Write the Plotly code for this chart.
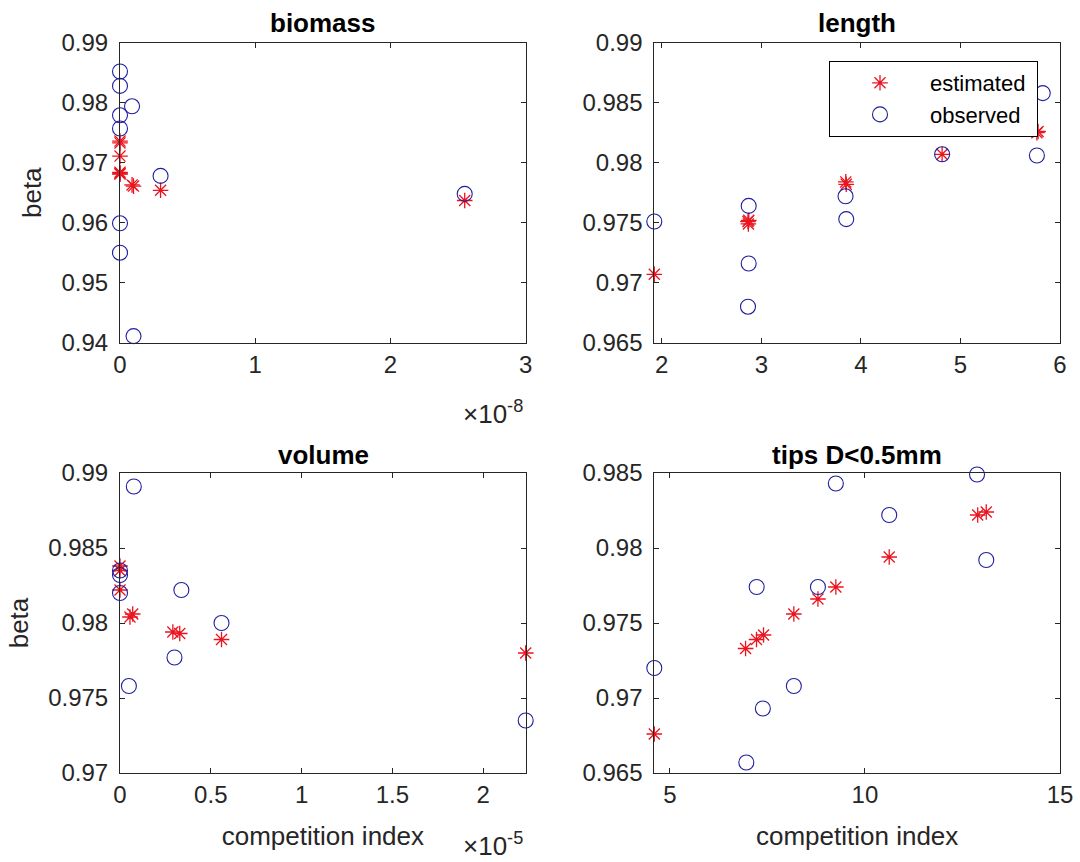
import plotly.graph_objects as go
from plotly.subplots import make_subplots

# biomass panel
bio_ci_est = [0, 0, 0, 0, 0, 0, 0.089e-8, 0.10e-8, 0.30e-8, 2.549e-8]
bio_beta_est = [0.9736, 0.9733, 0.9711, 0.9684, 0.9681, 0.9682, 0.9663, 0.9661, 0.9654, 0.9637]
bio_ci_obs = [0, 0, 0, 0, 0, 0, 0.089e-8, 0.10e-8, 0.30e-8, 2.549e-8]
bio_beta_obs = [0.9852, 0.9828, 0.9779, 0.9757, 0.9599, 0.9550, 0.9794, 0.9411, 0.9678, 0.9648]

# length panel
len_ci_est = [1.925, 2.866, 2.870, 2.874, 3.848, 3.853, 4.816, 5.768, 5.780]
len_beta_est = [0.9707, 0.9751, 0.9749, 0.9752, 0.9784, 0.9782, 0.9807, 0.9825, 0.9826]
len_ci_obs = [1.925, 2.873, 2.873, 2.866, 3.846, 3.853, 4.816, 5.768, 5.827]
len_beta_obs = [0.9751, 0.9764, 0.9716, 0.9680, 0.9772, 0.9753, 0.9807, 0.9806, 0.9858]

# volume panel
vol_ci_est = [0, 0, 0, 0.055e-5, 0.070e-5, 0.291e-5, 0.329e-5, 0.559e-5, 2.234e-5]
vol_beta_est = [0.9838, 0.9835, 0.9822, 0.9804, 0.9806, 0.9794, 0.9793, 0.9789, 0.9780]
vol_ci_obs = [0, 0, 0, 0.049e-5, 0.076e-5, 0.30e-5, 0.338e-5, 0.559e-5, 2.234e-5]
vol_beta_obs = [0.9835, 0.9832, 0.9820, 0.9758, 0.9891, 0.9777, 0.9822, 0.9800, 0.9735]

# tips D<0.5mm panel
tips_ci_est = [4.6, 6.94, 7.22, 7.40, 8.177, 8.795, 9.254, 10.622, 12.89, 13.11]
tips_beta_est = [0.9676, 0.9733, 0.9739, 0.9742, 0.9756, 0.9766, 0.9774, 0.9794, 0.9822, 0.9824]
tips_ci_obs = [4.6, 6.959, 7.224, 7.383, 8.177, 8.795, 9.254, 10.622, 12.873, 13.11]
tips_beta_obs = [0.9720, 0.9657, 0.9774, 0.9693, 0.9708, 0.9774, 0.9843, 0.9822, 0.9849, 0.9792]

titles = ["biomass", "length", "volume", "tips D&lt;0.5mm"]

red = "rgb(235,20,30)"
blue = "rgb(30,30,160)"
ink = "rgb(38,38,38)"
font = "Liberation Sans, Arial, sans-serif"

fig = make_subplots(rows=2, cols=2)

panels = [
    (1, 1, bio_ci_est, bio_beta_est, bio_ci_obs, bio_beta_obs),
    (1, 2, len_ci_est, len_beta_est, len_ci_obs, len_beta_obs),
    (2, 1, vol_ci_est, vol_beta_est, vol_ci_obs, vol_beta_obs),
    (2, 2, tips_ci_est, tips_beta_est, tips_ci_obs, tips_beta_obs),
]
for i, (r, c, xe, ye, xo, yo) in enumerate(panels):
    fig.add_trace(go.Scatter(x=xe, y=ye, mode="markers", name="estimated\u00a0",
                             showlegend=(i == 1), cliponaxis=False,
                             marker=dict(symbol="asterisk-open", size=13, color=red,
                                         line=dict(color=red, width=1.3))), row=r, col=c)
    fig.add_trace(go.Scatter(x=xo, y=yo, mode="markers", name="observed\u00a0",
                             showlegend=(i == 1), cliponaxis=False,
                             marker=dict(symbol="circle-open", size=15, color=blue,
                                         line=dict(color=blue, width=1.1))), row=r, col=c)

xdom = [[120 / 1080, 525.7 / 1080], [654.3 / 1080, 1060 / 1080]]
ydom = [[1 - 342.7 / 862, 1 - 42.7 / 862], [1 - 773 / 862, 1 - 473 / 862]]

axis_common = dict(showline=True, linecolor=ink, linewidth=1, mirror="ticks", ticks="inside",
                   ticklen=5, tickcolor=ink, showgrid=False, zeroline=False, automargin=False,
                   tickfont=dict(size=24, color=ink, family=font))

x_settings = [
    dict(range=[0, 3e-8], tickvals=[0, 1e-8, 2e-8, 3e-8], ticktext=["0", "1", "2", "3"]),
    dict(range=[1.925, 6], tickvals=[2, 3, 4, 5, 6], ticktext=["2", "3", "4", "5", "6"]),
    dict(range=[0, 2.234e-5], tickvals=[0, 0.5e-5, 1e-5, 1.5e-5, 2e-5], ticktext=["0", "0.5", "1", "1.5", "2"]),
    dict(range=[4.6, 15], tickvals=[5, 10, 15], ticktext=["5", "10", "15"]),
]
y_settings = [
    dict(range=[0.94, 0.99], tickvals=[0.94, 0.95, 0.96, 0.97, 0.98, 0.99],
         ticktext=["0.94", "0.95", "0.96", "0.97", "0.98", "0.99"]),
    dict(range=[0.965, 0.99], tickvals=[0.965, 0.97, 0.975, 0.98, 0.985, 0.99],
         ticktext=["0.965", "0.97", "0.975", "0.98", "0.985", "0.99"]),
    dict(range=[0.97, 0.99], tickvals=[0.97, 0.975, 0.98, 0.985, 0.99],
         ticktext=["0.97", "0.975", "0.98", "0.985", "0.99"]),
    dict(range=[0.965, 0.985], tickvals=[0.965, 0.97, 0.975, 0.98, 0.985],
         ticktext=["0.965", "0.97", "0.975", "0.98", "0.985"]),
]

label_font = dict(size=26, color=ink, family=font)
for i, (r, c, *_rest) in enumerate(panels):
    xs = dict(axis_common, **x_settings[i], domain=xdom[c - 1], ticklabelstandoff=0)
    ys = dict(axis_common, **y_settings[i], domain=ydom[r - 1], ticklabelstandoff=6)
    if r == 2:
        xs["title"] = dict(text="competition index", font=label_font, standoff=20)
    if c == 1:
        ys["title"] = dict(text="beta", font=label_font, standoff=12)
    fig.update_xaxes(xs, row=r, col=c)
    fig.update_yaxes(ys, row=r, col=c)

annotations = []
title_pos = [(323, 23), (857, 23), (323, 455), (857, 455)]
for t, (px, py) in zip(titles, title_pos):
    annotations.append(dict(text="<b>" + t + "</b>", x=px / 1080, y=1 - py / 862, xref="paper", yref="paper",
                            showarrow=False, xanchor="center", yanchor="middle",
                            font=dict(size=26, color="black", family=font)))
for txt, py in [("\u00d710<sup>-8</sup>", 412), ("\u00d710<sup>-5</sup>", 844)]:
    annotations.append(dict(text=txt, x=525 / 1080, y=1 - py / 862, xref="paper", yref="paper",
                            showarrow=False, xanchor="right", yanchor="middle",
                            font=dict(size=26, color=ink, family=font)))

fig.update_layout(
    width=1080, height=862,
    margin=dict(l=0, r=0, t=0, b=0),
    paper_bgcolor="white", plot_bgcolor="white",
    annotations=annotations,
    legend=dict(x=829 / 1080, y=1 - 61 / 862, xanchor="left", yanchor="top", itemwidth=90,
                bordercolor="black", borderwidth=1, bgcolor="white",
                font=dict(size=22, color="black", family=font), tracegroupgap=0),
)

# page body has a default 8px margin; drop it so the figure sits at the window origin
fig.write_html("out.html", config={"displayModeBar": False},
               post_script="document.body.style.margin='0px';")
